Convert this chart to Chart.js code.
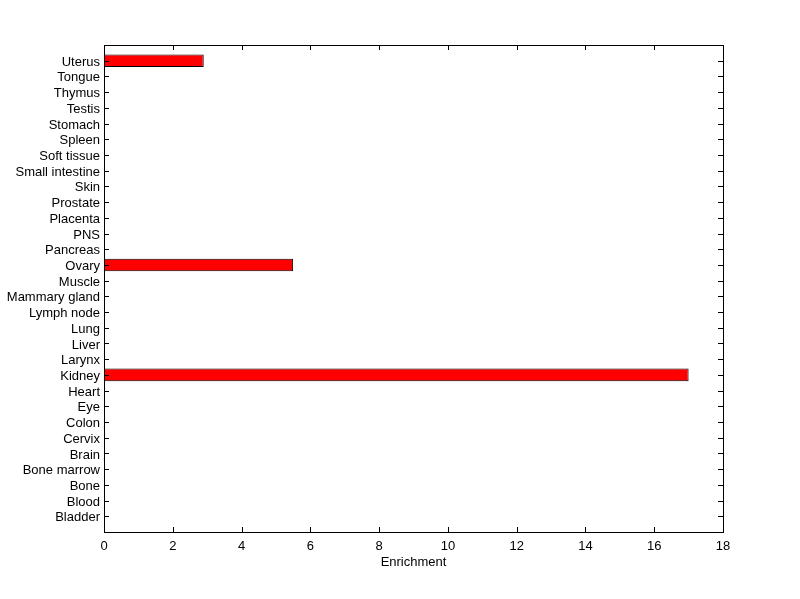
<!DOCTYPE html>
<html>
<head>
<meta charset="utf-8">
<style>
  html, body { margin: 0; padding: 0; background: #ffffff; }
  canvas { display: block; }
</style>
<script src="https://cdn.jsdelivr.net/npm/chart.js@4/dist/chart.umd.min.js"></script>
</head>
<body>
<canvas id="c" width="800" height="599"></canvas>
<script>
const categories = ["Bladder","Blood","Bone","Bone marrow","Brain","Cervix","Colon","Eye","Heart","Kidney","Larynx","Liver","Lung","Lymph node","Mammary gland","Muscle","Ovary","Pancreas","PNS","Placenta","Prostate","Skin","Small intestine","Soft tissue","Spleen","Stomach","Testis","Thymus","Tongue","Uterus"];
const enrichment = [0,0,0,0,0,0,0,0,0,17.0,0,0,0,0,0,0,5.5,0,0,0,0,0,0,0,0,0,0,0,0,2.9];
const xTicks = [0,2,4,6,8,10,12,14,16,18];
const xTitle = "Enrichment";

const FONT = "'Liberation Sans', Arial, Helvetica, sans-serif";

const innerTicks = {
  id: 'innerTicks',
  afterDraw(chart) {
    const ctx = chart.ctx;
    const a = chart.chartArea;
    const xs = chart.scales.x, ys = chart.scales.y;
    const L = 5;
    ctx.save();
    ctx.strokeStyle = '#000';
    ctx.lineWidth = 1;
    ctx.beginPath();
    xs.ticks.forEach(t => {
      const px = Math.round(xs.getPixelForValue(t.value)) + 0.5;
      ctx.moveTo(px, a.bottom); ctx.lineTo(px, a.bottom - L);
      ctx.moveTo(px, a.top); ctx.lineTo(px, a.top + L);
    });
    ys.ticks.forEach(t => {
      const py = Math.round(ys.getPixelForValue(t.value)) + 0.5;
      ctx.moveTo(a.left, py); ctx.lineTo(a.left + L, py);
      ctx.moveTo(a.right, py); ctx.lineTo(a.right - L, py);
    });
    ctx.stroke();
    ctx.strokeRect(Math.round(a.left) + 0.5, Math.round(a.top) + 0.5, Math.round(a.right - a.left), Math.round(a.bottom - a.top));
    ctx.restore();
  }
};

new Chart(document.getElementById('c'), {
  type: 'bar',
  data: {
    datasets: [{
      data: enrichment.map((v, i) => ({ x: v, y: i + 1 })),
      backgroundColor: '#ff0000',
      borderColor: '#000000',
      borderWidth: c => (c.raw && c.raw.x) ? 1 : 0,
      borderSkipped: false,
      barPercentage: 0.8,
      categoryPercentage: 1.0
    }]
  },
  options: {
    indexAxis: 'y',
    responsive: false,
    animation: false,
    devicePixelRatio: 1,
    layout: { padding: { top: 45, right: 77, left: 0, bottom: 29 } },
    plugins: { legend: { display: false }, tooltip: { enabled: false } },
    scales: {
      x: {
        type: 'linear',
        min: 0, max: 18,
        afterBuildTicks: s => { s.ticks = xTicks.map(v => ({ value: v })); },
        afterFit: s => { s.height = 38; },
        grid: { display: false, drawTicks: false },
        border: { display: false },
        ticks: { color: '#000', padding: 7, font: { family: FONT, size: 13 } },
        title: { display: true, text: xTitle, color: '#000', padding: { top: 0, bottom: 0 }, font: { family: FONT, size: 13 } }
      },
      y: {
        type: 'linear',
        offset: false,
        min: 0, max: 31,
        afterBuildTicks: s => { s.ticks = categories.map((c, i) => ({ value: i + 1 })); },
        afterFit: s => { s.width = 104; },
        grid: { display: false, drawTicks: false, offset: false },
        border: { display: false },
        ticks: {
          color: '#000', padding: 4, autoSkip: false, labelOffset: 1.5,
          font: { family: FONT, size: 13 },
          callback: v => categories[v - 1]
        }
      }
    }
  },
  plugins: [innerTicks]
});
</script>
</body>
</html>
